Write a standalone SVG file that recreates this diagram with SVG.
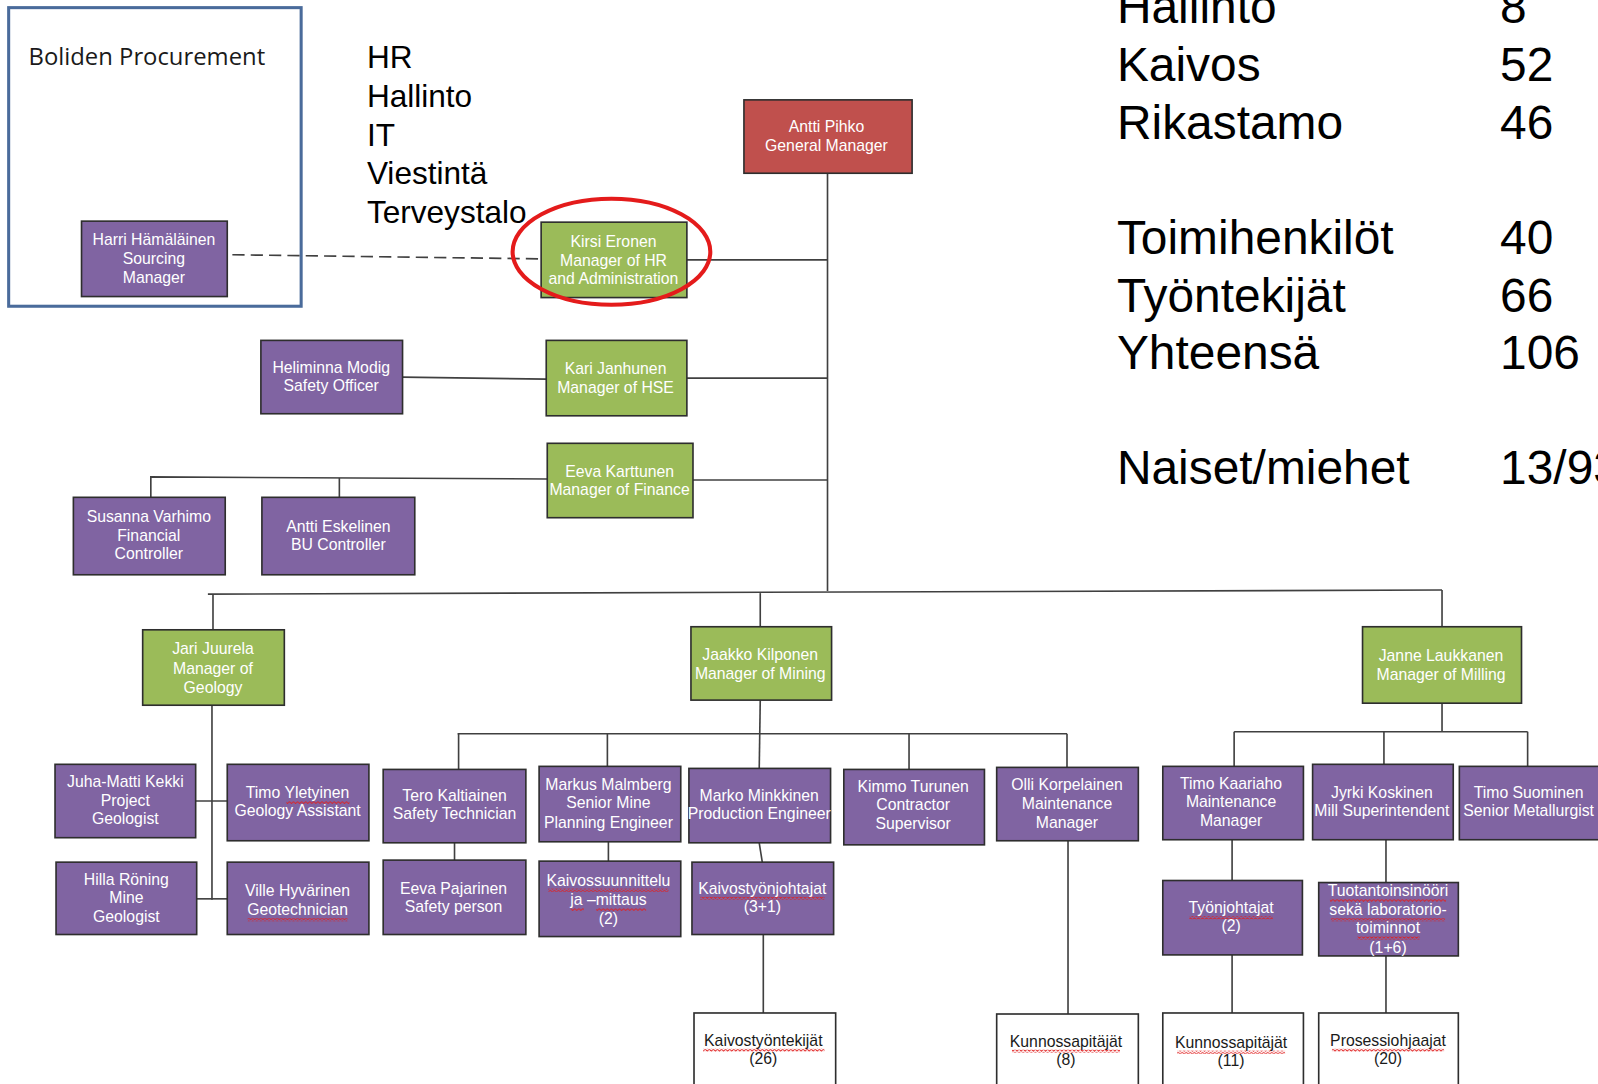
<svg xmlns="http://www.w3.org/2000/svg" width="1598" height="1084" viewBox="0 0 1598 1084">
<defs>
<pattern id="wavy" width="4" height="3" patternUnits="userSpaceOnUse">
<path d="M0 0.5 L2 2.5 L4 0.5" fill="none" stroke="#e02020" stroke-width="0.9"/>
</pattern>
</defs>
<style>
.p{fill:#8064a2;stroke:#2e2e2e;stroke-width:1.6}
.g{fill:#9bbb59;stroke:#2e2e2e;stroke-width:1.6}
.r{fill:#c0504d;stroke:#2e2e2e;stroke-width:1.6}
.w{fill:#ffffff;stroke:#2e2e2e;stroke-width:1.6}
.t{font-family:"Liberation Sans",Arial,sans-serif;font-size:15.5px;fill:#ffffff;text-anchor:middle}
.tb{font-family:"Liberation Sans",Arial,sans-serif;font-size:15.5px;fill:#1a1a1a;text-anchor:middle}
.big{font-family:"Liberation Sans",Arial,sans-serif;font-size:31px;fill:#000}
.st{font-family:"Liberation Sans",Arial,sans-serif;font-size:47px;fill:#000}
.c{fill:none;stroke:#404040;stroke-width:1.6}
.u{fill:url(#wavy)}
</style>
<rect width="1598" height="1084" fill="#ffffff"/>
<g id="diagram" transform="scale(1.0191)">

<g id="procurement">
<rect x="8.5" y="7.5" width="287" height="293" fill="none" stroke="#4a6b9b" stroke-width="3"/>
<text x="28" y="64" font-family="'Open Sans','Liberation Sans',sans-serif" font-size="23.4" fill="#1a1a1a">Boliden Procurement</text>
</g>

<g id="hr-list" class="big">
<text x="360" y="67">HR</text>
<text x="360" y="105">Hallinto</text>
<text x="360" y="143">IT</text>
<text x="360" y="181">Viestintä</text>
<text x="360" y="219">Terveystalo</text>
</g>

<g id="stats" class="st">
<text x="1096" y="23">Hallinto</text><text x="1472" y="23">8</text>
<text x="1096" y="79">Kaivos</text><text x="1472" y="79">52</text>
<text x="1096" y="136">Rikastamo</text><text x="1472" y="136">46</text>
<text x="1096" y="249">Toimihenkilöt</text><text x="1472" y="249">40</text>
<text x="1096" y="306">Työntekijät</text><text x="1472" y="306">66</text>
<text x="1096" y="362">Yhteensä</text><text x="1472" y="362">106</text>
<text x="1096" y="475">Naiset/miehet</text><text x="1472" y="475">13/93</text>
</g>

<g id="connectors">
<path class="c" d="M228 250 L530 254" stroke-dasharray="12 6"/>
<path class="c" d="M812 170 V580"/>
<path class="c" d="M674 255 H812"/>
<path class="c" d="M674 371 H812"/>
<path class="c" d="M395 370 L536 372"/>
<path class="c" d="M680 471 H812"/>
<path class="c" d="M537 470 L148 468 V488"/>
<path class="c" d="M333 469 V488"/>
<path class="c" d="M204 583 L1415 579"/>
<path class="c" d="M209 583 V618"/>
<path class="c" d="M746 582 V615"/>
<path class="c" d="M1415 579 V615"/>
<path class="c" d="M208 692 V883"/>
<path class="c" d="M192 786 H223"/>
<path class="c" d="M193 882 H223"/>
<path class="c" d="M746 687 L745 754"/>
<path class="c" d="M449 720 H1047"/>
<path class="c" d="M450 720 V755"/>
<path class="c" d="M596 720 V752"/>
<path class="c" d="M892 720 V755"/>
<path class="c" d="M1047 720 V753"/>
<path class="c" d="M446 827 V844"/>
<path class="c" d="M597 826 V845"/>
<path class="c" d="M745 827 L748 846"/>
<path class="c" d="M749 917 V994"/>
<path class="c" d="M1048 825 V995"/>
<path class="c" d="M1415 690 V718"/>
<path class="c" d="M1211 718 H1499"/>
<path class="c" d="M1211 718 V752"/>
<path class="c" d="M1358 718 V750"/>
<path class="c" d="M1499 718 V752"/>
<path class="c" d="M1209 824 V864"/>
<path class="c" d="M1360 824 V866"/>
<path class="c" d="M1209 937 V994"/>
<path class="c" d="M1360 938 V994"/>
</g>

<g id="harri"><rect class="p" x="80" y="217" width="143" height="74"/>
<text class="t"><tspan x="151" y="240.5">Harri Hämäläinen</tspan><tspan x="151" y="259.5">Sourcing</tspan><tspan x="151" y="277.5">Manager</tspan></text></g>

<g id="antti-pihko"><rect class="r" x="730" y="98" width="165" height="72"/>
<text class="t"><tspan x="811" y="129.5">Antti Pihko</tspan><tspan x="811" y="148.5">General Manager</tspan></text></g>

<g id="kirsi"><rect class="g" x="531" y="218" width="143" height="74"/>
<text class="t"><tspan x="602" y="242">Kirsi Eronen</tspan><tspan x="602" y="261">Manager of HR</tspan><tspan x="602" y="279">and Administration</tspan></text></g>

<ellipse id="highlight" cx="600" cy="247" rx="97" ry="52" fill="none" stroke="#e41b1b" stroke-width="4"/>

<g id="heliminna"><rect class="p" x="256" y="334" width="139" height="72"/>
<text class="t"><tspan x="325" y="366">Heliminna Modig</tspan><tspan x="325" y="384">Safety Officer</tspan></text></g>

<g id="kari"><rect class="g" x="536" y="334" width="138" height="74"/>
<text class="t"><tspan x="604" y="367">Kari Janhunen</tspan><tspan x="604" y="386">Manager of HSE</tspan></text></g>

<g id="eeva-k"><rect class="g" x="537" y="435" width="143" height="73"/>
<text class="t"><tspan x="608" y="468">Eeva Karttunen</tspan><tspan x="608" y="486">Manager of Finance</tspan></text></g>

<g id="susanna"><rect class="p" x="72" y="488" width="149" height="76"/>
<text class="t"><tspan x="146" y="512">Susanna Varhimo</tspan><tspan x="146" y="531">Financial</tspan><tspan x="146" y="549">Controller</tspan></text></g>

<g id="antti-e"><rect class="p" x="257" y="488" width="150" height="76"/>
<text class="t"><tspan x="332" y="522">Antti Eskelinen</tspan><tspan x="332" y="540">BU Controller</tspan></text></g>

<g id="jari"><rect class="g" x="140" y="618" width="139" height="74"/>
<text class="t"><tspan x="209" y="642">Jari Juurela</tspan><tspan x="209" y="661">Manager of</tspan><tspan x="209" y="680">Geology</tspan></text></g>

<g id="jaakko"><rect class="g" x="678" y="615" width="138" height="72"/>
<text class="t"><tspan x="746" y="648">Jaakko Kilponen</tspan><tspan x="746" y="666">Manager of Mining</tspan></text></g>

<g id="janne"><rect class="g" x="1337" y="615" width="156" height="75"/>
<text class="t"><tspan x="1414" y="649">Janne Laukkanen</tspan><tspan x="1414" y="667">Manager of Milling</tspan></text></g>

<g id="juha"><rect class="p" x="54" y="750" width="138" height="72"/>
<text class="t"><tspan x="123" y="772">Juha-Matti Kekki</tspan><tspan x="123" y="791">Project</tspan><tspan x="123" y="809">Geologist</tspan></text></g>

<g id="timo-y"><rect class="p" x="223" y="750" width="139" height="75"/>
<text class="t"><tspan x="292" y="783">Timo Yletyinen</tspan><tspan x="292" y="801">Geology Assistant</tspan></text>
<rect class="u" x="281" y="786" width="62" height="3"/></g>

<g id="hilla"><rect class="p" x="55" y="846" width="138" height="71"/>
<text class="t"><tspan x="124" y="868">Hilla Röning</tspan><tspan x="124" y="886">Mine</tspan><tspan x="124" y="905">Geologist</tspan></text></g>

<g id="ville"><rect class="p" x="223" y="846" width="139" height="71"/>
<text class="t"><tspan x="292" y="879">Ville Hyvärinen</tspan><tspan x="292" y="898">Geotechnician</tspan></text>
<rect class="u" x="243" y="901" width="98" height="3"/></g>

<g id="tero"><rect class="p" x="376" y="755" width="140" height="72"/>
<text class="t"><tspan x="446" y="786">Tero Kaltiainen</tspan><tspan x="446" y="804">Safety Technician</tspan></text></g>

<g id="markus"><rect class="p" x="529" y="752" width="139" height="74"/>
<text class="t"><tspan x="597" y="775">Markus Malmberg</tspan><tspan x="597" y="793">Senior Mine</tspan><tspan x="597" y="812">Planning Engineer</tspan></text></g>

<g id="marko"><rect class="p" x="676" y="754" width="139" height="73"/>
<text class="t"><tspan x="745" y="786">Marko Minkkinen</tspan><tspan x="745" y="804">Production Engineer</tspan></text></g>

<g id="kimmo"><rect class="p" x="828" y="755" width="138" height="74"/>
<text class="t"><tspan x="896" y="777">Kimmo Turunen</tspan><tspan x="896" y="795">Contractor</tspan><tspan x="896" y="813">Supervisor</tspan></text></g>

<g id="olli"><rect class="p" x="978" y="753" width="139" height="72"/>
<text class="t"><tspan x="1047" y="775">Olli Korpelainen</tspan><tspan x="1047" y="794">Maintenance</tspan><tspan x="1047" y="812">Manager</tspan></text></g>

<g id="eeva-p"><rect class="p" x="376" y="844" width="140" height="73"/>
<text class="t"><tspan x="445" y="877">Eeva Pajarinen</tspan><tspan x="445" y="895">Safety person</tspan></text></g>

<g id="kaivossuunnittelu"><rect class="p" x="529" y="845" width="139" height="74"/>
<text class="t"><tspan x="597" y="869">Kaivossuunnittelu</tspan><tspan x="597" y="888">ja –mittaus</tspan><tspan x="597" y="907">(2)</tspan></text>
<rect class="u" x="538" y="872" width="118" height="3"/>
<rect class="u" x="560" y="891" width="13" height="3"/>
<rect class="u" x="585" y="891" width="49" height="3"/></g>

<g id="kaivostyonjohtajat"><rect class="p" x="679" y="846" width="139" height="71"/>
<text class="t"><tspan x="748" y="877">Kaivostyönjohtajat</tspan><tspan x="748" y="895">(3+1)</tspan></text>
<rect class="u" x="687" y="880" width="122" height="3"/></g>

<g id="kaivostyontekijat"><rect class="w" x="681" y="994" width="139" height="100"/>
<text class="tb"><tspan x="749" y="1026">Kaivostyöntekijät</tspan><tspan x="749" y="1044">(26)</tspan></text>
<rect class="u" x="690" y="1029" width="119" height="3"/></g>

<g id="kunnossapitajat-8"><rect class="w" x="978" y="995" width="139" height="100"/>
<text class="tb"><tspan x="1046" y="1027">Kunnossapitäjät</tspan><tspan x="1046" y="1045">(8)</tspan></text>
<rect class="u" x="993" y="1030" width="106" height="3"/></g>

<g id="timo-k"><rect class="p" x="1141" y="752" width="138" height="72"/>
<text class="t"><tspan x="1208" y="774">Timo Kaariaho</tspan><tspan x="1208" y="792">Maintenance</tspan><tspan x="1208" y="811">Manager</tspan></text></g>

<g id="jyrki"><rect class="p" x="1288" y="750" width="138" height="74"/>
<text class="t"><tspan x="1356" y="783">Jyrki Koskinen</tspan><tspan x="1356" y="801">Mill Superintendent</tspan></text></g>

<g id="timo-s"><rect class="p" x="1432" y="752" width="137" height="72"/>
<text class="t"><tspan x="1500" y="783">Timo Suominen</tspan><tspan x="1500" y="801">Senior Metallurgist</tspan></text></g>

<g id="tyonjohtajat"><rect class="p" x="1141" y="864" width="137" height="73"/>
<text class="t"><tspan x="1208" y="896">Työnjohtajat</tspan><tspan x="1208" y="914">(2)</tspan></text>
<rect class="u" x="1167" y="899" width="82" height="3"/></g>

<g id="tuotantoinsinoori"><rect class="p" x="1294" y="866" width="137" height="72"/>
<text class="t"><tspan x="1362" y="879">Tuotantoinsinööri</tspan><tspan x="1362" y="898">sekä laboratorio-</tspan><tspan x="1362" y="916">toiminnot</tspan><tspan x="1362" y="935">(1+6)</tspan></text>
<rect class="u" x="1305" y="882" width="114" height="3"/>
<rect class="u" x="1306" y="901" width="112" height="3"/>
<rect class="u" x="1332" y="919" width="61" height="3"/></g>

<g id="kunnossapitajat-11"><rect class="w" x="1141" y="994" width="138" height="100"/>
<text class="tb"><tspan x="1208" y="1028">Kunnossapitäjät</tspan><tspan x="1208" y="1046">(11)</tspan></text>
<rect class="u" x="1155" y="1031" width="106" height="3"/></g>

<g id="prosessiohjaajat"><rect class="w" x="1294" y="994" width="137" height="100"/>
<text class="tb"><tspan x="1362" y="1026">Prosessiohjaajat</tspan><tspan x="1362" y="1044">(20)</tspan></text>
<rect class="u" x="1307" y="1029" width="110" height="3"/></g>
</g>
</svg>
